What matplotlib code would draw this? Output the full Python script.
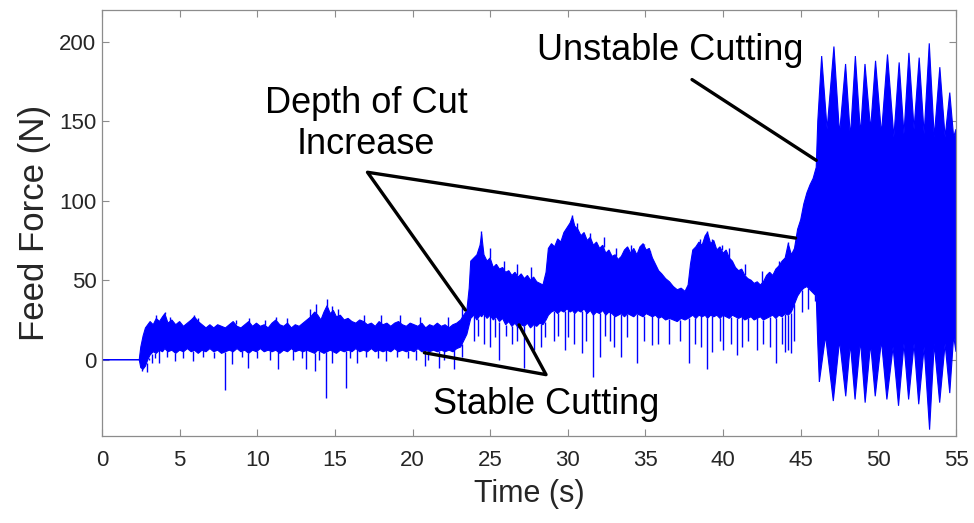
import numpy as np
import matplotlib
matplotlib.use("Agg")
import matplotlib.pyplot as plt

plt.rcParams["font.family"] = ["Liberation Sans", "DejaVu Sans"]

# envelope of the feed force signal (time, upper edge, lower edge)
env_t = [0, 2.4, 2.5, 2.65, 2.8, 2.95, 3.1, 3.3, 3.5, 3.7, 3.9, 4.05, 4.25, 4.5, 4.75,
         5.0, 5.25, 5.5, 5.75, 5.95, 6.2, 6.45, 6.7, 6.95, 7.2, 7.45, 7.7, 7.95, 8.2,
         8.45, 8.7, 8.95, 9.2, 9.45, 9.7, 9.95, 10.2, 10.45, 10.7, 10.95, 11.2, 11.45,
         11.7, 11.95, 12.2, 12.45, 12.7, 12.95, 13.2, 13.45, 13.7, 13.9, 14.1, 14.3,
         14.5, 14.7, 14.9, 15.1, 15.35, 15.6, 15.85, 16.1, 16.35, 16.6, 16.85, 17.1,
         17.35, 17.6, 17.85, 18.1, 18.35, 18.6, 18.85, 19.1, 19.35, 19.6, 19.85, 20.1,
         20.35, 20.6, 20.85, 21.1, 21.35, 21.6, 21.85, 22.1, 22.35, 22.6, 22.85, 23.1,
         23.3, 23.5, 23.65,
         23.75, 23.95, 24.15, 24.35, 24.45, 24.6, 24.8, 25.0, 25.2, 25.4, 25.6, 25.8,
         26.0, 26.2, 26.4, 26.6, 26.8, 27.0, 27.2, 27.4, 27.6, 27.8, 28.0, 28.2, 28.4,
         28.6, 28.75, 28.95, 29.15, 29.35, 29.55, 29.75, 29.95, 30.15, 30.3, 30.45,
         30.65, 30.85, 31.05, 31.25, 31.45, 31.65, 31.85, 32.05, 32.25, 32.45, 32.65,
         32.85, 33.05, 33.25, 33.45, 33.65, 33.85, 34.05, 34.25, 34.45, 34.65, 34.85,
         35.05, 35.25, 35.45, 35.65, 35.85, 36.05, 36.3, 36.55, 36.8, 37.05, 37.3,
         37.55, 37.75, 37.9, 38.05, 38.25, 38.45, 38.65, 38.85, 39.0, 39.2, 39.4, 39.6,
         39.8, 40.0, 40.2, 40.4, 40.6, 40.8, 41.0, 41.2, 41.4, 41.6, 41.8, 42.0, 42.2,
         42.4, 42.6, 42.8, 43.0, 43.2, 43.4, 43.6, 43.8, 44.0, 44.2, 44.4, 44.6, 44.8,
         45.0, 45.2, 45.4, 45.6, 45.8, 46.0]
env_hi = [0, 0, 8, 15, 20, 22, 24, 22, 26, 24, 27, 29, 23, 25, 22,
          24, 21, 23, 25, 27, 24, 22, 20, 22, 20, 22, 21, 20, 22,
          24, 21, 20, 22, 24, 21, 23, 21, 22, 20, 23, 25, 22,
          21, 23, 20, 22, 21, 23, 25, 27, 30, 28, 25, 30,
          34, 29, 31, 27, 28, 25, 26, 24, 23, 25, 24, 22,
          23, 21, 24, 22, 23, 21, 23, 24, 22, 21, 23, 22,
          21, 23, 20, 22, 21, 23, 21, 22, 20, 22, 23, 25,
          28, 31, 45,
          62, 64, 66, 72, 79, 66, 62, 64, 58, 60, 57, 58,
          55, 56, 53, 55, 52, 54, 51, 53, 50, 52, 49, 48, 47,
          55, 70, 73, 71, 76, 74, 80, 83, 86, 90, 84,
          82, 78, 80, 75, 77, 72, 74, 70, 72, 67, 69,
          65, 66, 63, 65, 69, 71, 67, 70, 66, 71, 73,
          69, 70, 64, 60, 56, 54, 51, 49, 46, 44, 45,
          43, 47, 60, 69, 71, 74, 72, 78, 80, 73, 75, 69,
          71, 67, 69, 64, 62, 58, 56, 57, 53, 51, 50, 48, 49,
          47, 49, 53, 55, 53, 57, 59, 62, 64, 73, 66, 70, 82,
          88, 98, 105, 110, 114, 121]
env_lo = [0, 0, -5, -6, -4, 0, 3, 5, 4, 6, 5, 7, 5, 6, 4,
          6, 5, 7, 5, 6, 4, 6, 5, 7, 5, 6, 4, 5, 6,
          5, 7, 5, 6, 4, 6, 5, 7, 5, 6, 5, 6, 4,
          6, 5, 7, 5, 6, 5, 6, 5, 4, 6, 5, 4,
          5, 6, 5, 4, 6, 5, 6, 5, 7, 5, 6, 5,
          7, 5, 6, 5, 6, 5, 7, 5, 6, 5, 6, 5,
          7, 5, 6, 5, 6, 5, 6, 5, 6, 5, 7, 8,
          12, 16, 22,
          26, 28, 25, 28, 27, 29, 26, 28, 25, 27, 24, 26,
          22, 24, 21, 23, 20, 22, 21, 23, 20, 22, 21, 23, 22,
          25, 28, 30, 31, 29, 31, 30, 32, 30, 31, 29,
          31, 30, 32, 29, 31, 28, 30, 29, 31, 28, 30,
          29, 27, 28, 29, 27, 29, 28, 27, 29, 28, 27,
          29, 28, 27, 28, 26, 27, 25, 26, 25, 24, 26,
          25, 26, 27, 28, 26, 28, 27, 28, 26, 28, 27, 28,
          26, 28, 27, 26, 28, 27, 26, 27, 25, 26, 27, 25, 26,
          27, 25, 26, 27, 28, 26, 28, 27, 29, 28, 30, 35, 40,
          43, 45, 46, 44, 42, 40]

# unstable cutting: comb-like peaks and troughs
unst_t_hi = [46.1, 46.35, 46.7, 47.14, 47.5, 47.89, 48.2, 48.52, 48.85, 49.14, 49.5,
             49.82, 50.2, 50.59, 51.0, 51.34, 51.65, 51.97, 52.3, 52.63, 52.95, 53.28,
             53.6, 53.96, 54.3, 54.6, 54.85, 55.0]
unst_hi = [150, 191, 145, 197, 142, 186, 140, 191, 142, 186, 145,
           188, 142, 192, 140, 187, 142, 193, 145, 190, 142, 199,
           140, 184, 140, 168, 140, 145]
unst_t_lo = [46.1, 46.2, 46.6, 47.1, 47.5, 47.9, 48.2, 48.5, 48.85, 49.15, 49.5,
             49.8, 50.2, 50.55, 50.95, 51.3, 51.65, 51.95, 52.3, 52.6, 52.95, 53.3,
             53.6, 53.95, 54.3, 54.6, 54.85, 55.0]
unst_lo = [10, -14, 15, -26, 12, -23, 10, -25, 12, -27, 10,
           -23, 12, -25, 8, -29, 10, -25, 10, -28, 8, -44,
           10, -27, 10, -21, 15, 5]

# downward spikes below the band (time, tip value)
spike_t = [2.55, 2.87, 3.0, 3.19, 3.4, 3.68, 4.2, 4.69, 5.2, 5.87, 6.5, 7.2, 7.95,
           8.4, 9.0, 9.4, 10.0, 10.8, 11.33, 12.3, 12.9, 13.15, 13.7, 14.0, 14.44,
           14.8, 15.7, 16.0, 16.4, 17.0, 17.8, 18.3, 19.0, 19.7, 20.2, 20.8, 21.0,
           21.7, 22.0, 22.7, 23.2,
           23.97, 24.2, 24.6, 25.0, 25.3, 25.6, 26.0, 26.4, 26.7, 27.2, 27.8, 28.3,
           28.5, 29.1, 29.4, 29.8, 30.0, 30.4, 30.9, 31.2, 31.6, 32.1, 32.4, 32.7,
           33.0, 33.4, 33.8, 34.47, 34.9, 35.4, 35.8, 36.5, 37.2, 37.8, 38.2, 38.6,
           38.97, 39.3, 39.8, 40.0, 40.5, 40.9, 41.2, 41.6, 42.2, 42.6, 43.0, 43.4,
           43.8, 44.0, 44.2, 44.35, 44.6, 45.1, 45.5, 45.9]
spike_v = [-7, -7.5, 0, -2, 1, -2, 2, -1, 1, -1, 2, 1, -19,
           -3, 2, -5, 1, 0, -6, 0, 1, -6, -7, 0, -24,
           -2, -17.5, 1, -2, 2, 1, -1, 2, 1, 0, -4, 0,
           -5, 0, -6, 2,
           12, 15, 10, 8, 14, 0, 15, 10, 12, -5, 6, 8,
           14, 12, 15, 6, 14, 10, 4, 12, -11, 2, 15, 12,
           8, 2, 14, -2, 12, 9, 10, 10, 12, -2, 10, 8,
           -6, 5, 12, 6, 10, 3, 8, 12, 6, 10, 8, -2,
           10, 5, 6, 4, 12, 30, 32, 37]

# upward hairs above the band (time, tip value)
hair_t = [3.5, 4.05, 4.4, 5.9, 6.2, 8.6, 9.5, 10.5, 11.2, 11.9, 13.4, 13.8, 14.5,
          14.8, 15.2, 16.9, 18.0, 19.2, 20.5, 22.3, 23.2,
          24.4, 25.0, 25.9, 26.7, 27.6, 29.8, 30.3, 30.6, 31.4, 32.3, 33.1,
          34.1, 34.9, 35.3, 38.5, 38.96, 39.3, 39.9, 40.4, 41.4, 42.5, 43.6, 44.2]
hair_v = [28, 30, 27, 28, 26, 25, 26, 25, 27, 26, 32, 35, 38,
          34, 32, 28, 28, 28, 27, 27, 33,
          81, 70, 62, 60, 58, 80, 91, 86, 80, 77, 70,
          72, 73, 68, 76, 81, 76, 72, 70, 60, 56, 62, 74]

BLUE = "#0000ff"

fig = plt.figure(figsize=(9.74, 5.23), dpi=100)
ax = fig.add_axes([0.1047, 0.1663, 0.8768, 0.8147])

t_hi_all = np.concatenate([env_t, unst_t_hi])
hi_all = np.concatenate([env_hi, unst_hi])
t_lo_all = np.concatenate([env_t, unst_t_lo])
lo_all = np.concatenate([env_lo, unst_lo])

# polygon of the dense band
poly_x = np.concatenate([t_hi_all, t_lo_all[::-1]])
poly_y = np.concatenate([hi_all, lo_all[::-1]])
ax.fill(poly_x, poly_y, color=BLUE, lw=0.8, zorder=2)

lo_base = np.interp(spike_t, env_t, env_lo)
ax.vlines(spike_t, spike_v, lo_base, color=BLUE, lw=1.0, zorder=2)
hi_base = np.interp(hair_t, env_t, env_hi)
ax.vlines(hair_t, hi_base, hair_v, color=BLUE, lw=1.0, zorder=2)

ax.set_xlim(0, 55)
ax.set_ylim(-48, 220)
ax.set_xticks(np.arange(0, 56, 5))
ax.set_yticks([0, 50, 100, 150, 200])

for s in ax.spines.values():
    s.set_color("#8c8c8c")
    s.set_linewidth(0.9)
ax.tick_params(direction="in", top=True, right=True, length=5, width=0.8,
               color="#8c8c8c", labelcolor="#262626", labelsize=16)
ax.tick_params(axis="x", pad=10)
ax.tick_params(axis="y", pad=4)

ax.set_xlabel("Time (s)", fontsize=22, color="#262626", labelpad=6)
ax.set_ylabel("Feed Force (N)", fontsize=25, color="#262626", labelpad=6)

# annotations
txt = dict(fontsize=26, color="black", ha="center", va="center", zorder=5)
ax.text(36.6, 194.4, "Unstable Cutting", **txt)
ax.text(17.0, 148.3, "Depth of Cut\nIncrease", linespacing=1.2, **txt)
ax.text(28.6, -28.2, "Stable Cutting", **txt)

lk = dict(color="black", lw=2.4, solid_capstyle="round", zorder=4)
ax.plot([38.0, 46.0], [176.2, 125.4], **lk)
ax.plot([23.4, 17.1, 44.67], [31.3, 117.9, 76.5], **lk)
ax.plot([20.76, 28.6, 26.86], [4.4, -9.4, 21.9], **lk)

fig.savefig("out.png", dpi=100)
